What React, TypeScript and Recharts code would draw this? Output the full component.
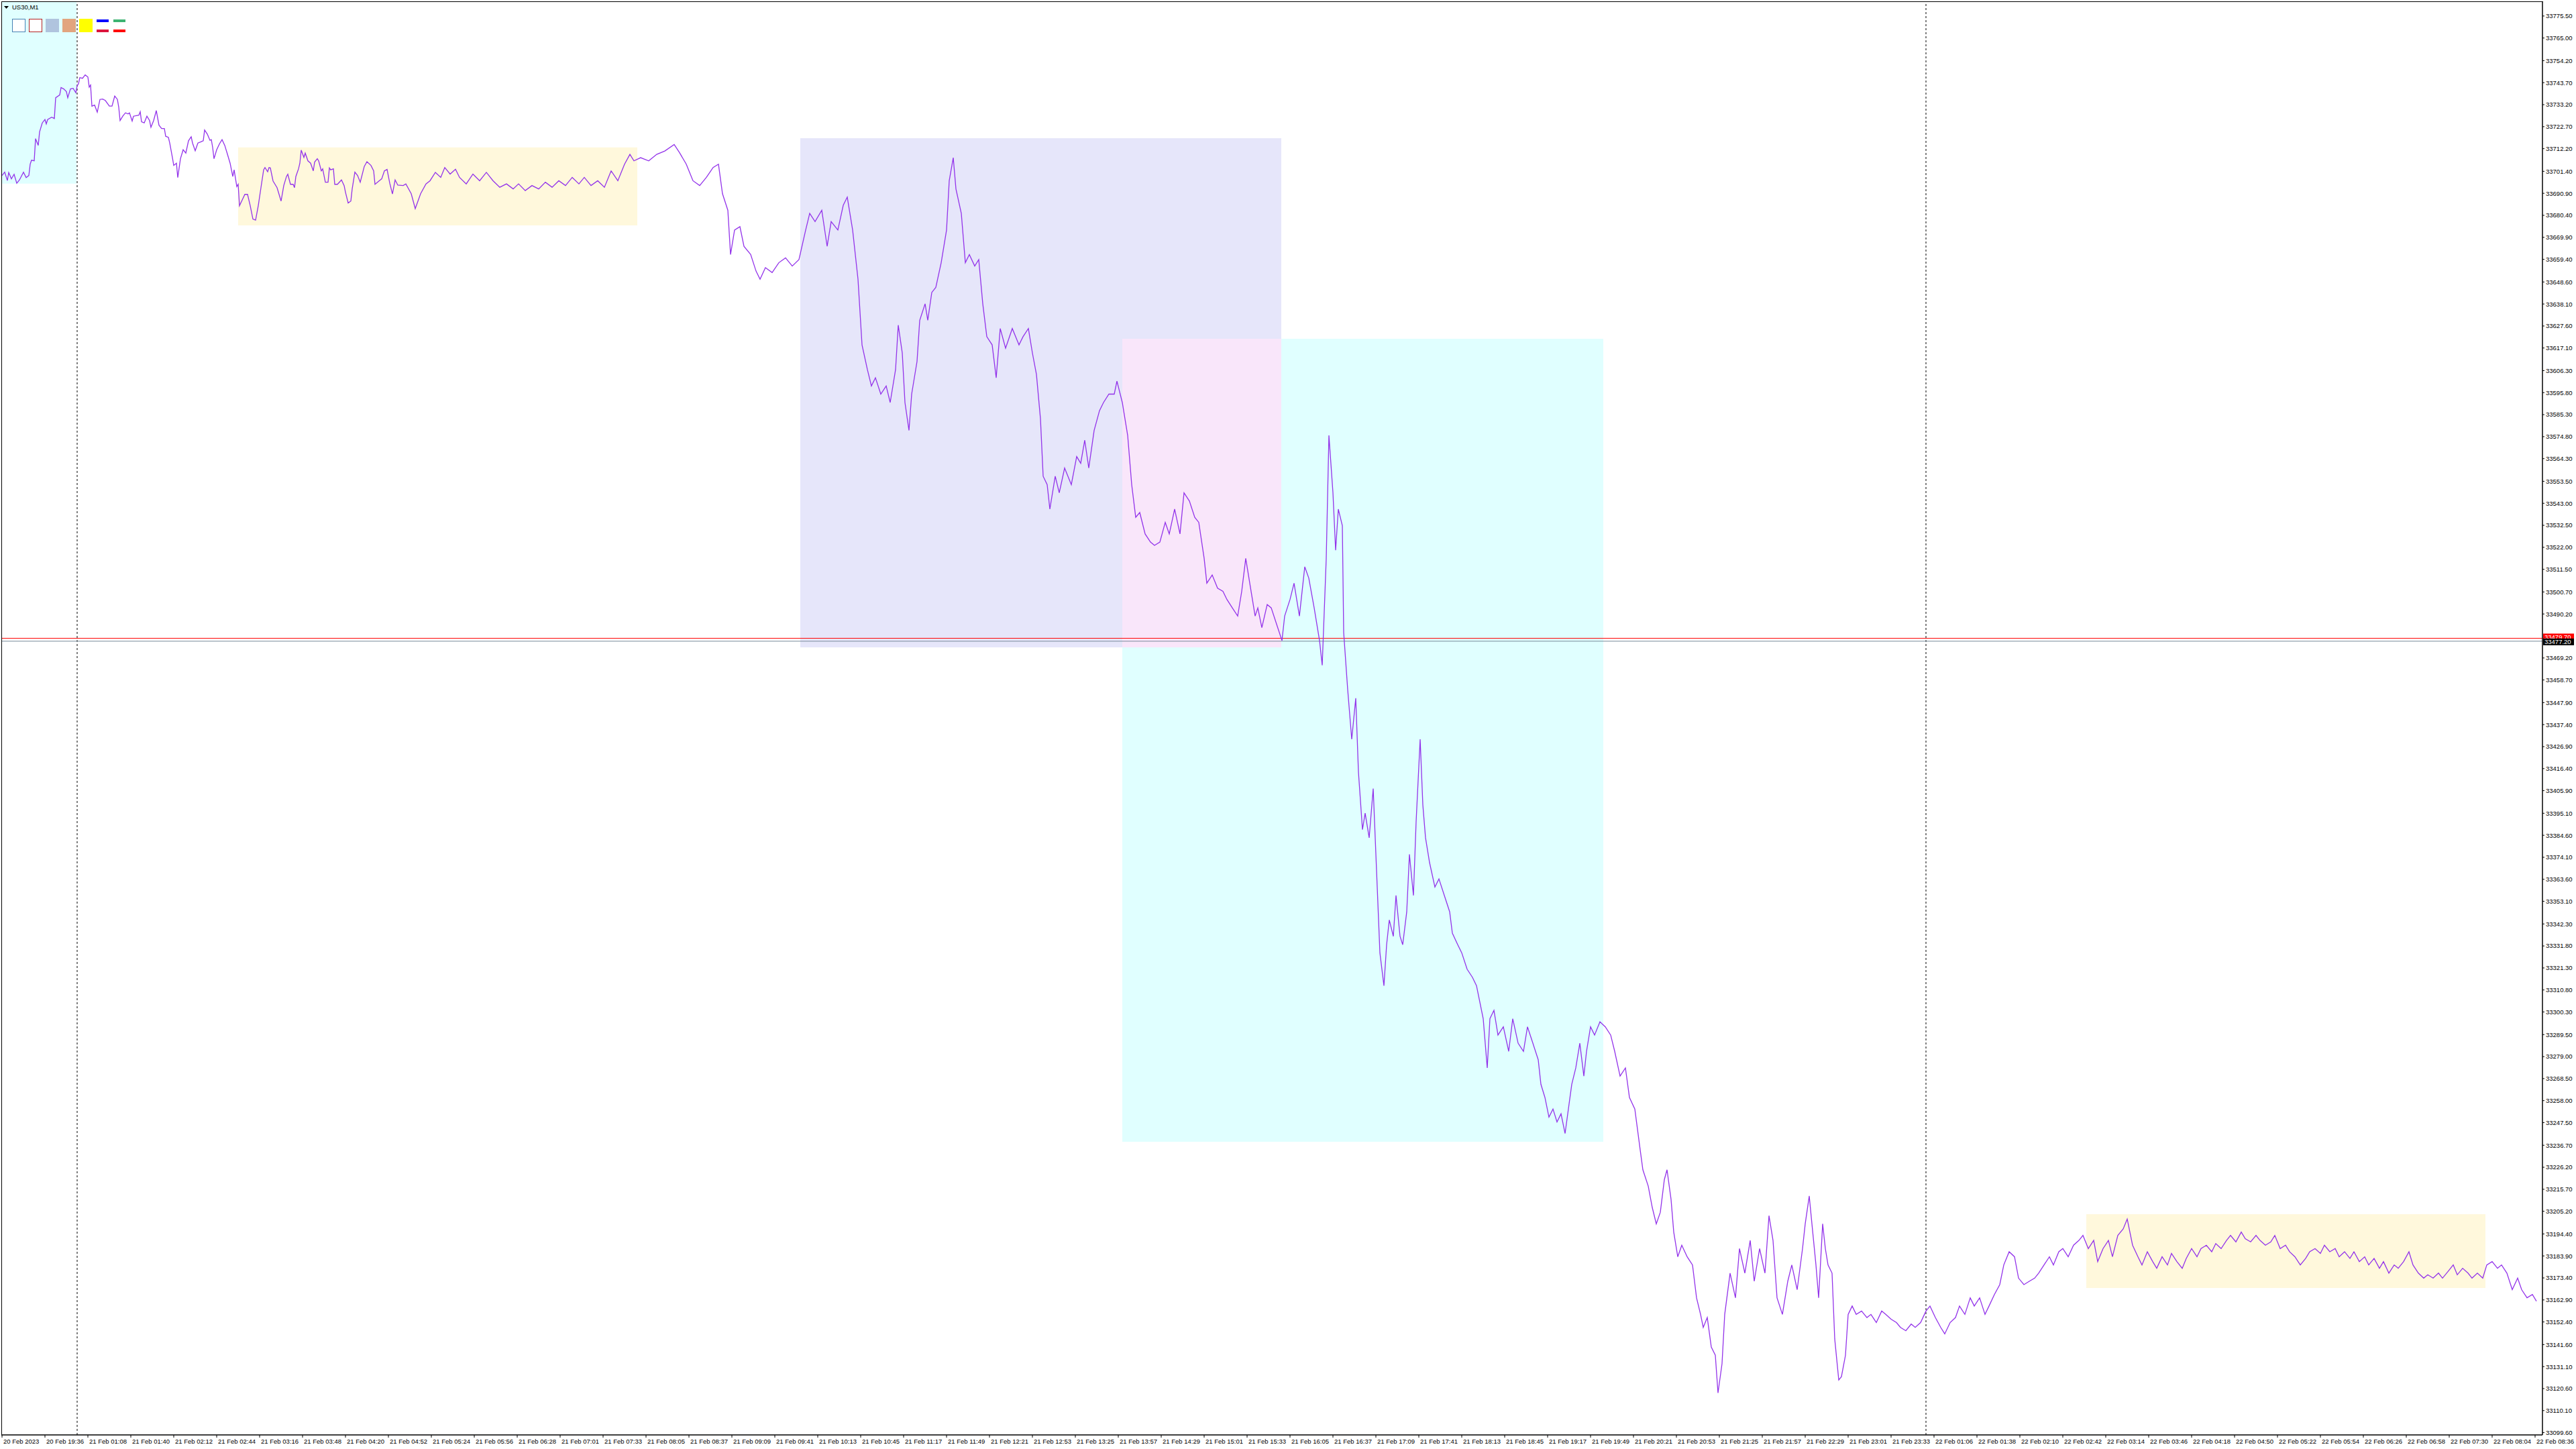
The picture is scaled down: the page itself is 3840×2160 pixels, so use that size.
import React from "react";
import { ComposedChart, Line, XAxis, YAxis, ReferenceArea, ReferenceLine } from "recharts";

// MT4 style US30 M1 chart, 2px per bar, price axis on the right
const SYMBOL = "US30,M1";
const LINE_COLOR = "#9333EA";
const FONT = "'Liberation Sans', Arial, sans-serif";
const BARS_PER_LABEL = 32;

const timeLabels = [
  "20 Feb 2023", "20 Feb 19:36", "21 Feb 01:08", "21 Feb 01:40", "21 Feb 02:12", "21 Feb 02:44",
  "21 Feb 03:16", "21 Feb 03:48", "21 Feb 04:20", "21 Feb 04:52", "21 Feb 05:24", "21 Feb 05:56",
  "21 Feb 06:28", "21 Feb 07:01", "21 Feb 07:33", "21 Feb 08:05", "21 Feb 08:37", "21 Feb 09:09",
  "21 Feb 09:41", "21 Feb 10:13", "21 Feb 10:45", "21 Feb 11:17", "21 Feb 11:49", "21 Feb 12:21",
  "21 Feb 12:53", "21 Feb 13:25", "21 Feb 13:57", "21 Feb 14:29", "21 Feb 15:01", "21 Feb 15:33",
  "21 Feb 16:05", "21 Feb 16:37", "21 Feb 17:09", "21 Feb 17:41", "21 Feb 18:13", "21 Feb 18:45",
  "21 Feb 19:17", "21 Feb 19:49", "21 Feb 20:21", "21 Feb 20:53", "21 Feb 21:25", "21 Feb 21:57",
  "21 Feb 22:29", "21 Feb 23:01", "21 Feb 23:33", "22 Feb 01:06", "22 Feb 01:38", "22 Feb 02:10",
  "22 Feb 02:42", "22 Feb 03:14", "22 Feb 03:46", "22 Feb 04:18", "22 Feb 04:50", "22 Feb 05:22",
  "22 Feb 05:54", "22 Feb 06:26", "22 Feb 06:58", "22 Feb 07:30", "22 Feb 08:04", "22 Feb 08:36",
];

const priceTicks = [
  33775.5, 33765.0, 33754.2, 33743.7, 33733.2, 33722.7, 33712.2, 33701.4, 33690.9, 33680.4,
  33669.9, 33659.4, 33648.6, 33638.1, 33627.6, 33617.1, 33606.3, 33595.8, 33585.3, 33574.8,
  33564.3, 33553.5, 33543.0, 33532.5, 33522.0, 33511.5, 33500.7, 33490.2, 33469.2, 33458.7,
  33447.9, 33437.4, 33426.9, 33416.4, 33405.9, 33395.1, 33384.6, 33374.1, 33363.6, 33353.1,
  33342.3, 33331.8, 33321.3, 33310.8, 33300.3, 33289.5, 33279.0, 33268.5, 33258.0, 33247.5,
  33236.7, 33226.2, 33215.7, 33205.2, 33194.4, 33183.9, 33173.4, 33162.9, 33152.4, 33141.6,
  33131.1, 33120.6, 33110.1, 33099.6,
];

// [bar, close]
const openSession: [number, number][] = [
  [0, 33699.4], [2, 33701.0], [4, 33697.0], [5, 33700.8], [7, 33697.8], [9, 33700.0], [11, 33695.7],
  [13, 33697.3], [16, 33701.0], [18, 33698.4], [20, 33699.4], [21, 33704.8], [22, 33706.7], [24, 33706.4],
  [25, 33717.0], [27, 33713.8], [28, 33720.2], [30, 33724.5], [32, 33726.1], [33, 33724.0], [34, 33726.1],
  [37, 33727.2], [39, 33726.6], [40, 33736.5], [43, 33737.8], [44, 33741.4], [46, 33740.7], [48, 33739.4],
  [49, 33736.5], [51, 33740.7], [53, 33741.0], [55, 33738.9], [56, 33742.1], [57, 33743.2], [58, 33746.1],
  [60, 33745.8], [62, 33747.4], [64, 33746.4], [65, 33741.6], [66, 33742.6], [67, 33732.5], [69, 33733.0],
  [71, 33729.6], [73, 33735.7], [75, 33735.9], [77, 33735.2], [80, 33732.5], [82, 33732.5], [84, 33737.3],
  [86, 33735.7], [87, 33732.0], [88, 33725.6], [90, 33727.7], [92, 33729.3], [94, 33728.8], [95, 33729.3],
  [97, 33725.4], [98, 33727.7], [102, 33728.2], [103, 33729.8], [104, 33725.0], [106, 33724.5], [108, 33727.7],
  [110, 33725.6], [111, 33722.4], [113, 33725.6], [115, 33730.4], [117, 33723.4], [119, 33721.8], [121, 33721.8],
  [122, 33718.1], [124, 33717.6], [125, 33714.9], [127, 33708.0], [128, 33704.2], [130, 33705.3], [131, 33698.4],
  [133, 33707.4], [135, 33711.7], [137, 33710.1], [139, 33716.0], [141, 33717.9], [142, 33714.9], [144, 33711.2],
  [146, 33714.9], [148, 33715.4], [150, 33716.0], [151, 33721.1], [153, 33719.2], [155, 33716.2], [156, 33716.5],
  [157, 33712.8], [158, 33707.4], [160, 33711.7], [162, 33714.4], [164, 33716.5], [166, 33713.8], [168, 33709.6],
  [170, 33705.3], [172, 33698.9], [173, 33702.1], [175, 33694.1], [176, 33695.2], [177, 33685.0], [179, 33687.7],
  [181, 33690.4], [183, 33690.4], [185, 33685.0], [187, 33678.6], [189, 33678.1], [191, 33685.0], [193, 33693.6],
  [195, 33702.1], [196, 33703.2], [198, 33701.2], [199, 33703.2], [200, 33703.0], [202, 33696.8], [205, 33693.6],
  [208, 33687.2], [210, 33694.6], [212, 33698.9], [213, 33700.0], [215, 33695.2], [217, 33695.2], [218, 33693.6],
  [219, 33698.9], [221, 33702.6], [222, 33705.3], [223, 33711.5], [225, 33708.0], [226, 33710.1], [228, 33706.4],
  [230, 33705.3], [232, 33701.6], [233, 33705.8], [235, 33707.4], [236, 33706.4], [238, 33701.6], [239, 33702.6],
  [241, 33696.2], [243, 33696.2], [244, 33703.0], [245, 33702.1], [247, 33702.6], [248, 33695.2], [250, 33695.2],
  [253, 33697.3], [255, 33694.6], [256, 33691.4], [258, 33686.3], [260, 33687.2], [261, 33693.0], [263, 33701.0],
  [265, 33699.4], [267, 33696.2], [270, 33703.7], [272, 33706.0], [275, 33704.2], [277, 33701.6], [278, 33695.2],
  [281, 33696.8], [283, 33697.8], [285, 33701.6], [287, 33702.3], [289, 33695.7], [291, 33690.6], [293, 33697.3],
  [295, 33694.8], [299, 33694.6],
];

const morningRange: [number, number][] = [
  [301, 33695.4], [305, 33690.7], [308, 33683.6], [312, 33690.7], [316, 33695.4], [319, 33696.9], [323, 33700.9],
  [327, 33698.5], [330, 33703.2], [334, 33700.1], [338, 33702.4], [341, 33698.5], [346, 33695.4], [351, 33700.1],
  [356, 33696.9], [361, 33700.9], [366, 33696.9], [371, 33693.8], [376, 33695.4], [381, 33693.0], [385, 33695.4],
  [390, 33692.2], [395, 33694.6], [400, 33693.0], [405, 33696.2], [410, 33693.8], [415, 33696.9], [420, 33694.6],
  [425, 33698.5], [430, 33695.4], [434, 33698.5], [439, 33694.6], [444, 33696.9], [449, 33693.8], [454, 33701.6],
  [459, 33696.9], [464, 33704.8], [468, 33709.5], [471, 33706.4], [476, 33707.9], [482, 33706.4], [488, 33709.5],
  [494, 33711.1], [501, 33714.2], [505, 33710.3], [510, 33704.8], [515, 33696.9], [520, 33694.6], [525, 33698.5],
  [530, 33703.2], [534, 33704.8], [537, 33690.7], [541, 33682.8], [543, 33661.7], [546, 33673.4], [550, 33675.0],
  [553, 33665.6], [558, 33661.7], [562, 33653.8], [565, 33649.9], [569, 33655.4], [574, 33653.1], [579, 33657.8],
  [584, 33660.1], [589, 33656.2], [594, 33659.3],
];

const middaySwing: [number, number][] = [
  [599, 33673.4], [602, 33681.3], [606, 33677.4], [611, 33682.8], [615, 33665.6], [618, 33677.4], [623, 33673.4],
  [627, 33685.2], [630, 33689.1], [634, 33673.4], [638, 33649.9], [641, 33618.6], [645, 33606.8], [648, 33599.0],
  [651, 33602.9], [655, 33595.1], [659, 33599.0], [662, 33591.1], [666, 33606.8], [668, 33628.0], [671, 33614.7],
  [673, 33591.1], [676, 33577.8], [678, 33595.1], [682, 33610.7], [684, 33630.3], [688, 33638.2], [690, 33630.3],
  [693, 33643.6], [696, 33646.0], [700, 33657.8], [704, 33673.4], [706, 33696.9], [709, 33707.9], [711, 33693.0],
  [715, 33681.3], [718, 33657.8], [721, 33661.7], [725, 33656.2], [728, 33659.3], [731, 33638.2], [734, 33622.5],
  [738, 33618.6], [741, 33602.9], [744, 33626.4], [748, 33617.0], [753, 33626.4], [758, 33618.6], [761, 33622.5],
  [765, 33626.4], [768, 33614.7], [771, 33604.5], [774, 33583.3], [776, 33555.9], [779, 33551.9], [781, 33540.2],
  [785, 33555.9], [788, 33548.0], [792, 33559.8], [797, 33551.9], [801, 33565.3], [804, 33562.1], [807, 33573.1],
  [810, 33559.8], [814, 33577.8], [818, 33587.2], [821, 33591.1], [825, 33595.1], [829, 33595.1], [831, 33601.3],
  [835, 33591.1], [839, 33575.4], [842, 33551.9], [845, 33536.3], [848, 33538.6], [852, 33528.4], [856, 33524.5],
  [859, 33522.9], [863, 33524.5], [867, 33533.9], [870, 33528.4], [874, 33540.2], [878, 33528.4], [881, 33548.0],
  [885, 33544.1], [889, 33536.3], [892, 33533.9], [896, 33516.7], [898, 33504.9], [902, 33508.8], [906, 33502.5],
  [910, 33501.0], [913, 33497.1], [917, 33493.1], [921, 33489.2], [924, 33501.0], [927, 33516.7], [930, 33504.9],
  [934, 33489.2], [936, 33493.1], [939, 33483.7], [943, 33494.7], [946, 33493.1], [950, 33485.3], [954, 33477.5],
];

const selloff: [number, number][] = [
  [956, 33489.2], [960, 33497.1], [963, 33504.9], [967, 33489.2], [971, 33512.7], [974, 33507.3], [978, 33493.1],
  [982, 33477.5], [984, 33465.7], [987, 33516.7], [989, 33575.4], [992, 33548.0], [994, 33520.6], [996, 33540.2],
  [999, 33532.3], [1000, 33481.4], [1003, 33454.0], [1006, 33430.4], [1009, 33450.0], [1011, 33414.8], [1014, 33387.3],
  [1016, 33395.2], [1019, 33383.4], [1022, 33406.9], [1025, 33359.9], [1027, 33328.5], [1030, 33312.8], [1032, 33332.4],
  [1034, 33344.2], [1037, 33336.4], [1039, 33355.9], [1042, 33336.4], [1044, 33332.4], [1047, 33348.1], [1049, 33375.5],
  [1052, 33355.9], [1054, 33391.2], [1057, 33430.4], [1059, 33399.1], [1061, 33383.4], [1064, 33371.6], [1068, 33359.9],
  [1071, 33363.8], [1075, 33355.9], [1079, 33348.1], [1081, 33337.9], [1085, 33332.4], [1088, 33328.5], [1092, 33320.7],
  [1096, 33316.8], [1099, 33312.8], [1102, 33303.4], [1104, 33297.1], [1107, 33273.6], [1109, 33297.1], [1112, 33301.1],
  [1115, 33289.3], [1119, 33293.2], [1123, 33281.5], [1126, 33297.1], [1130, 33285.4], [1134, 33281.5], [1137, 33293.2],
  [1141, 33285.4], [1145, 33277.5], [1147, 33265.8], [1150, 33259.5], [1153, 33250.1], [1156, 33254.0], [1159, 33247.8],
  [1162, 33251.7], [1165, 33242.3], [1168, 33256.4], [1170, 33265.8], [1173, 33273.6], [1176, 33285.4], [1179, 33269.7],
  [1181, 33281.5], [1184, 33293.2], [1187, 33289.3], [1191, 33295.6], [1195, 33293.2], [1199, 33289.3], [1202, 33281.5],
  [1206, 33269.7], [1210, 33273.6], [1213, 33259.5], [1217, 33254.0], [1221, 33234.5], [1223, 33225.0], [1227, 33217.2],
  [1230, 33207.0], [1233, 33199.2],
];

const eveningBase: [number, number][] = [
  [1236, 33204.7], [1239, 33220.3], [1241, 33225.0], [1244, 33210.9], [1246, 33195.3], [1249, 33183.5], [1252, 33189.0],
  [1256, 33183.5], [1260, 33179.6], [1263, 33163.9], [1266, 33156.0], [1268, 33149.8], [1271, 33154.5], [1274, 33140.4],
  [1277, 33136.5], [1279, 33118.5], [1282, 33132.5], [1284, 33156.0], [1288, 33175.7], [1292, 33163.9], [1295, 33187.4],
  [1299, 33175.7], [1303, 33191.3], [1306, 33171.8], [1310, 33187.4], [1314, 33175.7], [1317, 33203.1], [1320, 33191.3],
  [1323, 33163.9], [1327, 33156.0], [1331, 33171.8], [1334, 33179.6], [1338, 33167.8], [1342, 33187.4], [1344, 33199.2],
  [1347, 33212.5], [1349, 33199.2], [1352, 33179.6], [1354, 33163.9], [1357, 33199.2], [1359, 33187.4], [1361, 33179.6],
  [1364, 33175.7], [1366, 33144.3], [1369, 33124.7], [1371, 33126.3], [1374, 33136.5], [1376, 33156.0], [1379, 33160.0],
  [1382, 33156.0], [1386, 33157.6], [1390, 33154.5], [1393, 33156.0], [1397, 33152.1], [1401, 33157.6], [1404, 33156.0],
  [1408, 33153.7], [1412, 33152.1], [1415, 33149.8], [1419, 33148.2], [1423, 33151.4], [1426, 33149.8], [1430, 33152.1],
  [1434, 33157.6],
];

const feb22: [number, number][] = [
  [1437, 33160.0], [1441, 33154.5], [1445, 33149.8], [1448, 33146.7], [1452, 33152.1], [1456, 33154.5], [1459, 33160.0],
  [1463, 33156.0], [1467, 33163.9], [1470, 33160.0], [1474, 33163.9], [1478, 33156.0], [1481, 33160.0], [1485, 33165.5],
  [1489, 33170.2], [1492, 33179.6], [1496, 33185.9], [1500, 33183.5], [1503, 33173.3], [1507, 33170.2], [1511, 33171.8],
  [1515, 33173.3], [1518, 33175.7], [1522, 33179.6], [1526, 33183.5], [1529, 33179.6], [1533, 33185.9], [1536, 33187.4],
  [1540, 33183.5], [1544, 33189.0], [1548, 33191.3], [1551, 33193.7], [1555, 33187.4], [1559, 33191.3], [1562, 33181.2],
  [1566, 33187.4], [1570, 33191.3], [1573, 33183.5], [1577, 33193.7], [1581, 33196.8], [1584, 33201.5], [1588, 33189.0],
  [1592, 33183.5], [1595, 33179.6], [1599, 33185.9], [1603, 33181.2], [1606, 33178.0], [1610, 33183.5], [1614, 33179.6],
  [1617, 33185.1], [1621, 33181.2], [1625, 33178.0], [1628, 33182.7], [1632, 33187.4], [1636, 33183.5], [1639, 33187.4],
  [1643, 33189.0], [1647, 33185.9], [1650, 33189.8], [1654, 33187.4], [1658, 33191.3], [1661, 33193.7], [1665, 33190.6],
  [1669, 33195.3], [1672, 33192.1], [1676, 33190.6], [1680, 33193.7], [1683, 33191.3], [1687, 33189.0], [1691, 33190.6],
  [1694, 33193.7], [1698, 33187.4], [1702, 33189.0], [1705, 33185.9], [1709, 33183.5], [1713, 33179.6], [1717, 33182.7],
  [1720, 33185.9], [1724, 33187.4], [1728, 33185.1], [1731, 33189.0], [1735, 33185.9], [1739, 33187.4], [1742, 33183.5],
  [1746, 33185.9], [1750, 33182.7], [1753, 33185.9], [1757, 33181.2], [1761, 33183.5], [1764, 33179.6], [1768, 33182.7],
  [1772, 33178.0], [1775, 33181.2], [1779, 33175.7], [1783, 33179.6], [1786, 33178.0], [1790, 33181.2], [1794, 33185.9],
  [1797, 33179.6], [1801, 33175.7], [1805, 33173.3], [1808, 33174.9], [1812, 33173.3], [1816, 33175.7], [1819, 33173.3],
  [1823, 33176.4], [1827, 33179.6], [1830, 33174.9], [1834, 33178.0], [1838, 33175.7], [1841, 33173.3], [1845, 33175.7],
  [1849, 33173.3], [1852, 33179.6], [1856, 33181.2], [1860, 33178.0], [1863, 33179.6], [1867, 33175.7], [1871, 33167.8],
  [1875, 33173.3], [1878, 33167.8], [1882, 33163.9], [1886, 33165.5], [1889, 33162.3],
];

// chart objects: [bar from, bar to, price low, price high, fill]
const rectangles: [number, number, number, number, string][] = [
  [-0.5, 55.5, 33695.5, 33782.5, "#E0FFFF"],
  [176, 473.5, 33675.6, 33712.8, "#FFF8DC"],
  [595, 953.5, 33474.3, 33717.2, "#E6E6FA"],
  [835, 1193.5, 33238.4, 33621.5, "#E0FFFF"],
  [835, 953.5, 33474.3, 33621.5, "#F9E6FA"],
  [1553.5, 1851, 33168.6, 33203.8, "#FFF8DC"],
];

const daySeparators = [56, 1434];
const ASK_LINE = 33478.6;
const BID_LINE = 33477.2;

const series = [...openSession, ...morningRange, ...middaySwing, ...selloff, ...eveningBase, ...feb22].map(
  ([bar, close]) => ({ bar, close })
);
const timeTicks = timeLabels.map((_, i) => i * BARS_PER_LABEL);

// eslint-disable-next-line @typescript-eslint/no-explicit-any
function TimeTick({ x, y, payload }: any) {
  const label = timeLabels[Math.round(payload.value / BARS_PER_LABEL)];
  return (
    <text x={x + 2} y={y} dy="0.71em" fontSize={9.5} fontFamily={FONT} fill="#000" textAnchor="start">
      {label}
    </text>
  );
}

// eslint-disable-next-line @typescript-eslint/no-explicit-any
function PriceTag({ viewBox, text, bg, offset }: any) {
  if (!viewBox) return null;
  const x = viewBox.x + viewBox.width + 1;
  const y = viewBox.y + offset;
  return (
    <g>
      <rect x={x} y={y - 5} width={46} height={10} fill={bg} />
      <text x={x + 2} y={y} dy="0.355em" fontSize={9.5} fontFamily={FONT} fill="#fff">
        {text}
      </text>
    </g>
  );
}

function Toolbar() {
  const box = (left: number, style: React.CSSProperties) => (
    <div style={{ position: "absolute", left, top: 28, width: 20, height: 20, boxSizing: "border-box", ...style }} />
  );
  const dash = (left: number, top: number, color: string) => (
    <div style={{ position: "absolute", left, top, width: 18, height: 4, background: color }} />
  );
  return (
    <div style={{ position: "absolute", left: 0, top: 0, pointerEvents: "none" }}>
      <svg style={{ position: "absolute", left: 6, top: 9 }} width={7} height={4}>
        <polygon points="0,0 7,0 3.5,4" fill="#000" />
      </svg>
      <div style={{ position: "absolute", left: 18, top: 5, fontFamily: FONT, fontSize: 9.5, lineHeight: "11px", color: "#000" }}>
        {SYMBOL}
      </div>
      {box(18, { background: "#fff", border: "1px solid #4682B4" })}
      {box(43, { background: "#fff", border: "1px solid #B22222" })}
      {box(68, { background: "#B0C4DE" })}
      {box(93, { background: "#E2A57F" })}
      {box(118, { background: "#FFFF00" })}
      {dash(144, 29, "#0000FF")}
      {dash(144, 44, "#DC143C")}
      {dash(169, 29, "#3CB371")}
      {dash(169, 44, "#FF0000")}
    </div>
  );
}

export default function App() {
  return (
    <div style={{ position: "absolute", left: 0, top: 0, width: 3840, height: 2160, background: "#fff" }}>
      <ComposedChart width={3840} height={2160} data={series} margin={{ top: 2, right: 0, bottom: 0, left: 2 }}>
        <XAxis
          dataKey="bar"
          type="number"
          domain={[-0.5, 1893.5]}
          allowDataOverflow
          ticks={timeTicks}
          interval={0}
          height={21}
          tickSize={4}
          tickMargin={2}
          stroke="#000"
          axisLine={{ stroke: "#000", strokeWidth: 1.5 }}
          tickLine={{ stroke: "#000" }}
          tick={<TimeTick />}
        />
        <YAxis
          orientation="right"
          type="number"
          domain={[33098.5, 33782.5]}
          allowDataOverflow
          ticks={priceTicks}
          interval={0}
          width={50}
          tickSize={3}
          tickMargin={2}
          axisLine={{ stroke: "#000", strokeWidth: 1.5 }}
          tickLine={{ stroke: "#000" }}
          tick={{ fontSize: 9.5, fill: "#000", fontFamily: FONT }}
          tickFormatter={(v: number) => v.toFixed(2)}
        />
        {rectangles.map(([x1, x2, y1, y2, fill], i) => (
          <ReferenceArea key={`rect-${i}`} x1={x1} x2={x2} y1={y1} y2={y2} fill={fill} fillOpacity={1} stroke="none" ifOverflow="hidden" />
        ))}
        {daySeparators.map((b) => (
          <ReferenceLine key={`sep-${b}`} x={b} stroke="#000" strokeDasharray="3 3" strokeWidth={1} />
        ))}
        <ReferenceLine
          y={ASK_LINE}
          stroke="#FF0000"
          strokeWidth={1}
          label={(p: any) => <PriceTag viewBox={p.viewBox} text="33479.70" bg="#FF0000" offset={-2} />}
        />
        <ReferenceLine
          y={BID_LINE}
          stroke="#778899"
          strokeWidth={1}
          label={(p: any) => <PriceTag viewBox={p.viewBox} text={BID_LINE.toFixed(2)} bg="#000" offset={1} />}
        />
        <Line
          dataKey="close"
          type="linear"
          stroke={LINE_COLOR}
          strokeWidth={1.3}
          dot={false}
          activeDot={false}
          isAnimationActive={false}
        />
      </ComposedChart>
      <div style={{ position: "absolute", left: 2, top: 2, width: 3788, height: 2137, borderLeft: "1.5px solid #000", borderTop: "1.5px solid #000", pointerEvents: "none" }} />
      <Toolbar />
    </div>
  );
}
